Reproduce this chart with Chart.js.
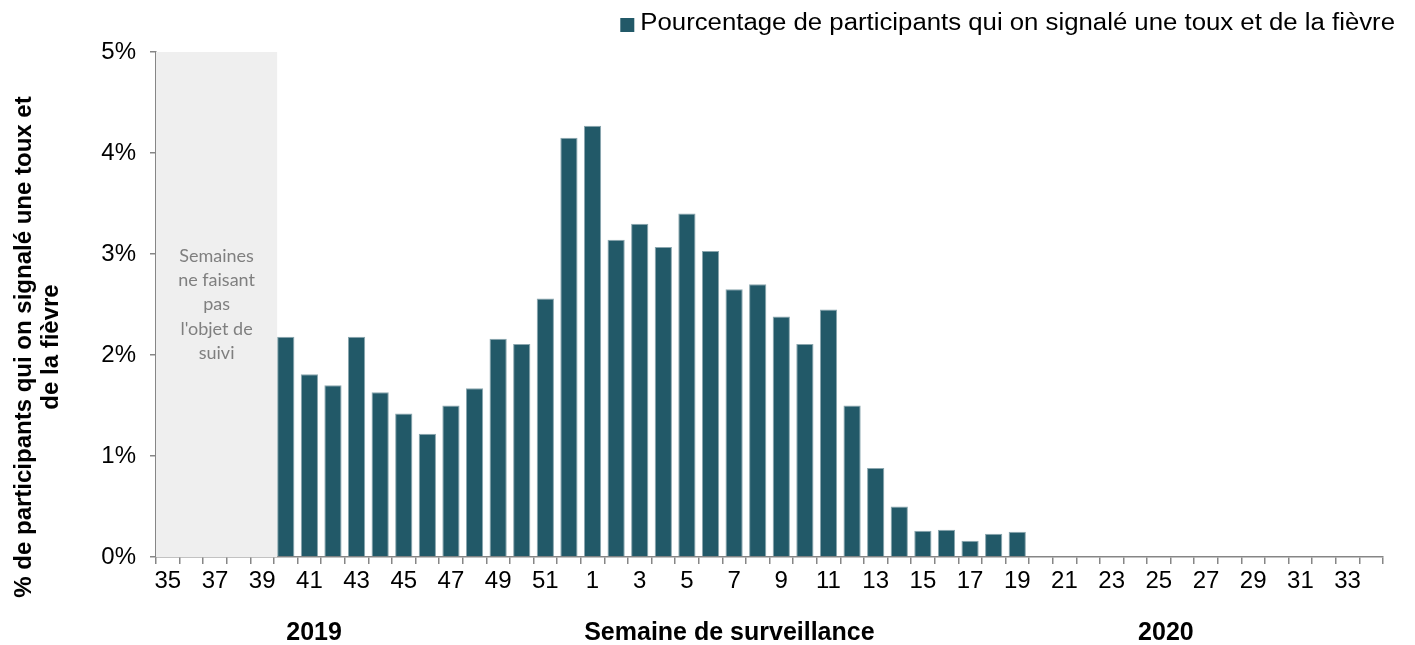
<!DOCTYPE html>
<html>
<head>
<meta charset="utf-8">
<script src="https://cdn.jsdelivr.net/npm/chart.js@4.4.1/dist/chart.umd.min.js"></script>
<style>
  html, body { margin: 0; padding: 0; background: #fff; }
  #wrap { width: 1415px; height: 645px; }
</style>
</head>
<body>
<div id="wrap"><canvas id="chart"></canvas></div>
<script>
// Semaines de surveillance (2019: 35-52, 2020: 1-34)
const weeks = [
  "35", "36", "37", "38", "39", "40", "41", "42", "43", "44", "45", "46", "47", "48", "49", "50", "51", "52",
  "1", "2", "3", "4", "5", "6", "7", "8", "9", "10", "11", "12", "13", "14", "15", "16", "17",
  "18", "19", "20", "21", "22", "23", "24", "25", "26", "27", "28", "29", "30", "31", "32", "33", "34",
];

// % de participants qui ont signalé une toux et de la fièvre
const toussFievre = [
  null, null, null, null, null, 2.18, 1.81, 1.70, 2.18, 1.63, 1.42, 1.22, 1.50, 1.67, 2.16, 2.11, 2.56, 4.15,
  4.27, 3.14, 3.30, 3.07, 3.40, 3.03, 2.65, 2.70, 2.38, 2.11, 2.45, 1.50, 0.88, 0.50, 0.26, 0.27, 0.16,
  0.23, 0.25, null, null, null, null, null, null, null, null, null, null, null, null, null, null, null,
];

const unmonitoredWeeks = ["35", "36", "37", "38", "39"];
const unmonitoredNote = ["Semaines", "ne faisant", "pas", "l'objet de", "suivi"];
const yTicks = [0, 1, 2, 3, 4, 5];
const yTitle = ["% de participants qui on signalé une toux et", "de la fièvre"];
const legendLabel = "Pourcentage de participants qui on signalé une toux et de la fièvre";
const yearLabels = [{ text: "2019", at: 6.2 }, { text: "Semaine de surveillance", at: 23.8 }, { text: "2020", at: 42.3 }];

const BAR = "#225968";
const AXIS = "#868686";
const BAR_PCT = 0.73;
const FONT = "'Liberation Sans', Arial, sans-serif";

// grey band behind the weeks that were not monitored, with its note
const unmonitoredBand = {
  id: "unmonitoredBand",
  beforeDatasetsDraw(chart) {
    const { ctx, chartArea, scales } = chart;
    const x = scales.x;
    const cat = x.width / weeks.length;
    const first = weeks.indexOf(unmonitoredWeeks[0]);
    const last = weeks.indexOf(unmonitoredWeeks[unmonitoredWeeks.length - 1]);
    const left = x.getPixelForValue(first) - cat / 2;
    const right = x.getPixelForValue(last + 1) - (cat * BAR_PCT) / 2;
    const top = scales.y.getPixelForValue(5);
    ctx.save();
    ctx.fillStyle = "#efefef";
    ctx.fillRect(left, top, right - left, chartArea.bottom - top);
    ctx.fillStyle = "#7f7f7f";
    ctx.font = "18px Lato";
    ctx.textAlign = "center";
    ctx.textBaseline = "middle";
    const cx = (left + right) / 2;
    const cy = scales.y.getPixelForValue(2.5);
    const lh = 24.2;
    unmonitoredNote.forEach((line, i) => {
      ctx.fillText(line, cx, cy + (i - (unmonitoredNote.length - 1) / 2) * lh);
    });
    ctx.restore();
  },
};

// legend (top right), y title, and the bold labels under the x axis
const axisTexts = {
  id: "axisTexts",
  afterDraw(chart) {
    const { ctx, chartArea, scales } = chart;

    // legend: text is slightly wide in the original, so stretch it a bit
    ctx.save();
    ctx.font = "23px " + FONT;
    const stretch = 1.12;
    const tw = ctx.measureText(legendLabel).width * stretch;
    const textRight = chart.width - 20;
    const textLeft = textRight - tw;
    ctx.fillStyle = BAR;
    ctx.fillRect(textLeft - 20, 18, 14, 14);
    ctx.fillStyle = "#000";
    ctx.textBaseline = "alphabetic";
    ctx.translate(textLeft, 29.5);
    ctx.scale(stretch, 1);
    ctx.fillText(legendLabel, 0, 0);
    ctx.restore();

    ctx.save();
    ctx.fillStyle = "#000";
    ctx.font = "bold 24px " + FONT;
    ctx.textAlign = "center";
    ctx.textBaseline = "middle";
    ctx.translate(38, chartArea.top + 295);
    ctx.rotate(-Math.PI / 2);
    ctx.fillText(yTitle[0], 0, -13.5);
    ctx.fillText(yTitle[1], 0, 13.5);
    ctx.restore();

    ctx.save();
    ctx.fillStyle = "#000";
    ctx.font = "bold 25px " + FONT;
    ctx.textAlign = "center";
    ctx.textBaseline = "middle";
    yearLabels.forEach((l) => {
      ctx.fillText(l.text, scales.x.getPixelForValue(l.at), chartArea.bottom + 76);
    });
    ctx.restore();
  },
};

new Chart(document.getElementById("chart"), {
  type: "bar",
  data: {
    labels: weeks,
    datasets: [{
      label: legendLabel,
      data: toussFievre,
      backgroundColor: BAR,
      borderColor: "#8aa6ae",
      borderWidth: 1,
      barPercentage: BAR_PCT,
      categoryPercentage: 1,
    }],
  },
  options: {
    responsive: true,
    maintainAspectRatio: false,
    animation: false,
    layout: { padding: { top: 52, right: 32, bottom: 0, left: 0 } },
    plugins: {
      legend: { display: false },
      tooltip: { enabled: false },
    },
    scales: {
      x: {
        afterFit: (s) => { s.height = 88; },
        grid: { display: true, drawOnChartArea: false, drawTicks: true, tickLength: 7, color: AXIS, lineWidth: 1.5, offset: true },
        border: { color: AXIS, width: 1.5 },
        ticks: {
          autoSkip: false,
          maxRotation: 0,
          color: "#000",
          padding: 3,
          font: { size: 24, family: FONT },
          callback: (v, i) => (i % 2 === 0 ? weeks[i] : ""),
        },
      },
      y: {
        min: 0,
        max: 5,
        afterFit: (s) => { s.width = 156; },
        afterBuildTicks: (s) => { s.ticks = yTicks.map((v) => ({ value: v })); },
        grid: { display: true, drawOnChartArea: false, drawTicks: true, tickLength: 6, color: AXIS, lineWidth: 1.5 },
        border: { color: AXIS, width: 1.5 },
        ticks: {
          color: "#000",
          padding: 14,
          font: { size: 24, family: FONT },
          callback: (v) => v + "%",
        },
      },
    },
  },
  plugins: [unmonitoredBand, axisTexts],
});
</script>
</body>
</html>
